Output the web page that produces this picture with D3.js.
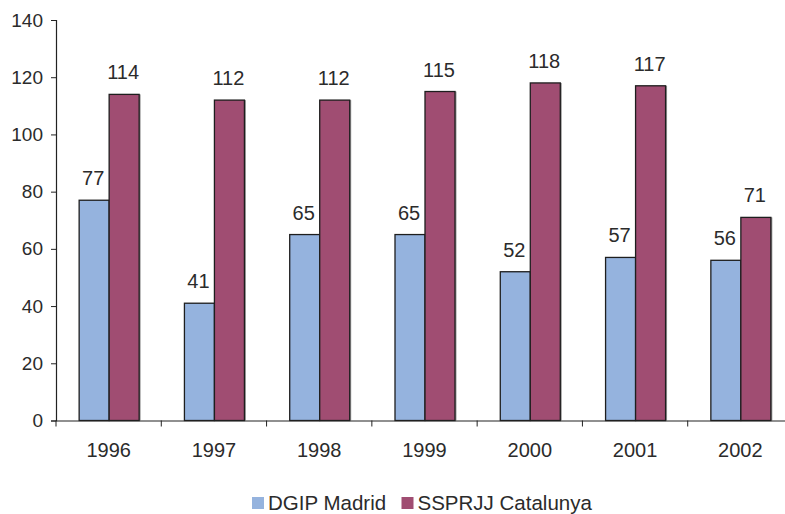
<!DOCTYPE html>
<html><head><meta charset="utf-8">
<script src="https://cdn.jsdelivr.net/npm/d3@7"></script>
<style>body{margin:0;background:#fff;} svg{display:block;font-family:"Liberation Sans",Arial,sans-serif;}</style>
</head><body>
<svg id="chart" width="785" height="514"></svg>
<script>
const years = ["1996","1997","1998","1999","2000","2001","2002"];
const seriesNames = ["DGIP Madrid","SSPRJJ Catalunya"];
const madrid = [77,41,65,65,52,57,56];
const catalunya = [114,112,112,115,118,117,71];
const yTicks = [0,20,40,60,80,100,120,140];
const colors = ["#95b3de","#a04d72"];

(function(){
const svg = d3.select("#chart");
const mLeft = 56, mRight = 793, mTop = 20, mBottom = 420.5;
const x = d3.scaleBand().domain(years).range([mLeft, mRight]).padding(0);
const y = d3.scaleLinear().domain([0,140]).range([mBottom, mTop]);
const barW = 30;
const txt = "#2b2b2b";

const data = years.map((yr,i)=>({yr, vals:[madrid[i], catalunya[i]]}));
const g = svg.append("g");
data.forEach(d=>{
  const cx = x(d.yr) + x.bandwidth()/2 + 0.5;
  d.vals.forEach((v,j)=>{
    const bx = cx - barW + j*barW;
    g.append("rect").attr("x", bx+1.5).attr("y", y(v)).attr("width", barW).attr("height", mBottom - y(v))
      .attr("fill","#9a9a9a");
    g.append("rect").attr("x", bx).attr("y", y(v)).attr("width", barW).attr("height", mBottom - y(v))
      .attr("fill", colors[j]).attr("stroke","#1e1e1e").attr("stroke-width",1.3);
    g.append("text").attr("x", bx + barW/2 - 1).attr("y", y(v) - 15)
      .attr("text-anchor","middle").attr("font-size",20).attr("fill",txt).text(v);
  });
});

const yAxis = d3.axisLeft(y).tickValues(yTicks).tickSize(5).tickPadding(8);
const ya = svg.append("g").attr("transform",`translate(${mLeft},0)`).call(yAxis);
ya.select(".domain").attr("stroke","#222").attr("stroke-width",1.2);
ya.selectAll(".tick line").attr("stroke","#222");
ya.selectAll("text").attr("font-size",19).attr("fill",txt).attr("font-family","Liberation Sans, Arial, sans-serif");

const xAxis = d3.axisBottom(x).tickSize(0).tickPadding(22);
const xa = svg.append("g").attr("transform",`translate(0,${mBottom})`).call(xAxis);
xa.select(".domain").attr("stroke","#222").attr("stroke-width",1.2);
xa.selectAll("text").attr("font-size",20).attr("fill",txt).attr("font-family","Liberation Sans, Arial, sans-serif");
svg.append("g").selectAll("line").data(years.concat(["end"])).join("line")
  .attr("x1",(d,i)=> mLeft + i*x.bandwidth()).attr("x2",(d,i)=> mLeft + i*x.bandwidth())
  .attr("y1",mBottom).attr("y2",mBottom+6).attr("stroke","#222").attr("stroke-width",1);

const legend = svg.append("g");
const legX = [252, 401.5];
seriesNames.forEach((n,i)=>{
  legend.append("rect").attr("x",legX[i]).attr("y",497).attr("width",12).attr("height",12).attr("fill",colors[i]);
  legend.append("text").attr("x",legX[i]+16).attr("y",510).attr("font-size",20.5).attr("fill",txt).text(n);
});
})();
</script>
</body></html>
